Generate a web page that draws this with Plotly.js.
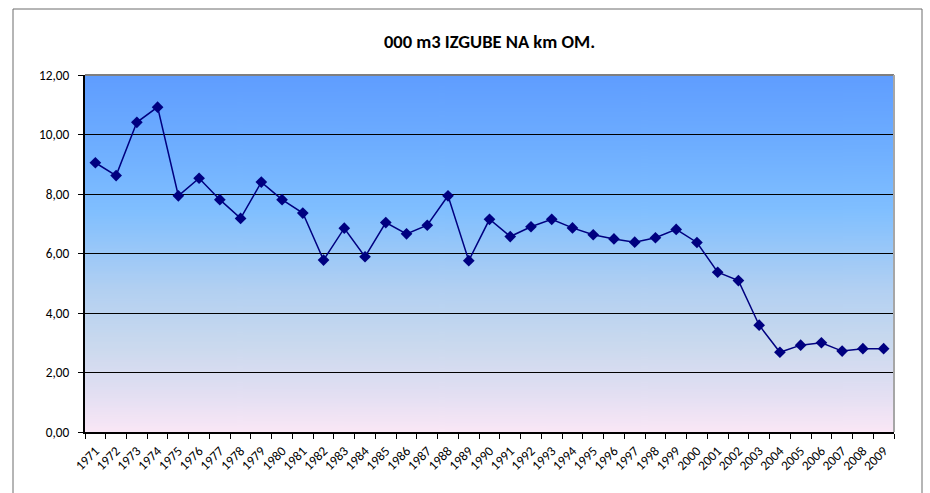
<!DOCTYPE html>
<html>
<head>
<meta charset="utf-8">
<script src="https://cdn.plot.ly/plotly-3.0.1.min.js"></script>
<style>
  html, body { margin: 0; padding: 0; background: #ffffff; }
  #chart { width: 930px; height: 493px; }
</style>
</head>
<body>
<div id="chart"></div>
<script>
// Data
const years = ["1971","1972","1973","1974","1975","1976","1977","1978","1979","1980",
  "1981","1982","1983","1984","1985","1986","1987","1988","1989","1990",
  "1991","1992","1993","1994","1995","1996","1997","1998","1999","2000",
  "2001","2002","2003","2004","2005","2006","2007","2008","2009"];
const losses = [9.05, 8.62, 10.41, 10.92, 7.94, 8.53, 7.81, 7.18, 8.40, 7.81,
  7.36, 5.78, 6.85, 5.89, 7.04, 6.66, 6.95, 7.94, 5.76, 7.15,
  6.57, 6.90, 7.15, 6.86, 6.63, 6.49, 6.38, 6.53, 6.81, 6.37,
  5.37, 5.09, 3.59, 2.68, 2.92, 3.00, 2.72, 2.80, 2.80];
const yTicks = [0, 2, 4, 6, 8, 10, 12];
const chartTitle = "000 m3 IZGUBE NA km OM.";

// Gradient background for plot area
function gradientURL() {
  const c = document.createElement('canvas');
  c.width = 8; c.height = 400;
  const g = c.getContext('2d');
  const gr = g.createLinearGradient(0, 0, 0, 400);
  gr.addColorStop(0.00, '#5f9dff');
  gr.addColorStop(0.20, '#6eaeff');
  gr.addColorStop(0.38, '#80bfff');
  gr.addColorStop(0.60, '#b2d0f2');
  gr.addColorStop(0.75, '#c9d9ee');
  gr.addColorStop(0.88, '#e0def2');
  gr.addColorStop(1.00, '#fae7f6');
  g.fillStyle = gr;
  g.fillRect(0, 0, 8, 400);
  return c.toDataURL('image/png');
}

const font = "Carlito, Calibri, 'Open Sans', 'Liberation Sans', sans-serif";

const trace = {
  x: years,
  y: losses,
  type: 'scatter',
  mode: 'lines+markers',
  line: { color: '#000080', width: 1.5 },
  marker: { symbol: 'diamond', size: 9, color: '#000080' },
  hoverinfo: 'x+y'
};

const layout = {
  width: 930,
  height: 493,
  margin: { l: 85, r: 36, t: 75, b: 61 },
  paper_bgcolor: 'rgba(0,0,0,0)',
  plot_bgcolor: 'rgba(0,0,0,0)',
  separators: ', ',
  showlegend: false,
  font: { family: font, color: '#000000' },
  title: {
    text: '<b>' + chartTitle + '</b>',
    font: { family: font, size: 18.5, color: '#000000' },
    x: 0.5, xref: 'paper', xanchor: 'center',
    y: 1 - 42 / 493, yref: 'container', yanchor: 'middle'
  },
  xaxis: {
    type: 'category',
    tickangle: -45,
    tickson: 'boundaries',
    ticks: 'outside', ticklen: 5, tickwidth: 1, tickcolor: '#000000',
    showline: true, linecolor: '#000000', linewidth: 2,
    showgrid: false,
    ticklabelstandoff: 4,
    tickfont: { family: font, size: 13.3, color: '#000000' },
    range: [-0.5, years.length - 0.5],
    fixedrange: true
  },
  yaxis: {
    range: [0, 12],
    tickvals: yTicks,
    tickformat: '.2f',
    ticks: 'outside', ticklen: 5, tickwidth: 1, tickcolor: '#000000',
    showline: true, linecolor: '#000000', linewidth: 2,
    showgrid: true, gridcolor: '#000000', gridwidth: 1,
    zeroline: false,
    ticklabelstandoff: 6,
    tickfont: { family: font, size: 13.3, color: '#000000' },
    fixedrange: true
  },
  images: [{
    source: gradientURL(),
    xref: 'paper', yref: 'paper',
    x: 0, y: 1, sizex: 1, sizey: 1,
    sizing: 'stretch', layer: 'below',
    xanchor: 'left', yanchor: 'top'
  }],
  shapes: [
    // plot area top and right border
    { type: 'line', xref: 'paper', yref: 'paper', x0: 0, x1: 1, y0: 1, y1: 1,
      line: { color: '#7f7f7f', width: 2 } },
    { type: 'line', xref: 'paper', yref: 'paper', x0: 1, x1: 1, y0: 0, y1: 1,
      line: { color: '#a6a6a6', width: 2 } },
    // outer chart frame
    { type: 'rect', xref: 'paper', yref: 'paper',
      x0: (13 - 85) / 809, x1: (922 - 85) / 809,
      y0: (432 - 520) / 357, y1: (432 - 9) / 357,
      line: { color: '#6d6d6d', width: 1 }, fillcolor: 'rgba(0,0,0,0)', layer: 'below' }
  ]
};

Plotly.newPlot('chart', [trace], layout, { displayModeBar: false, staticPlot: true });
</script>
</body>
</html>
